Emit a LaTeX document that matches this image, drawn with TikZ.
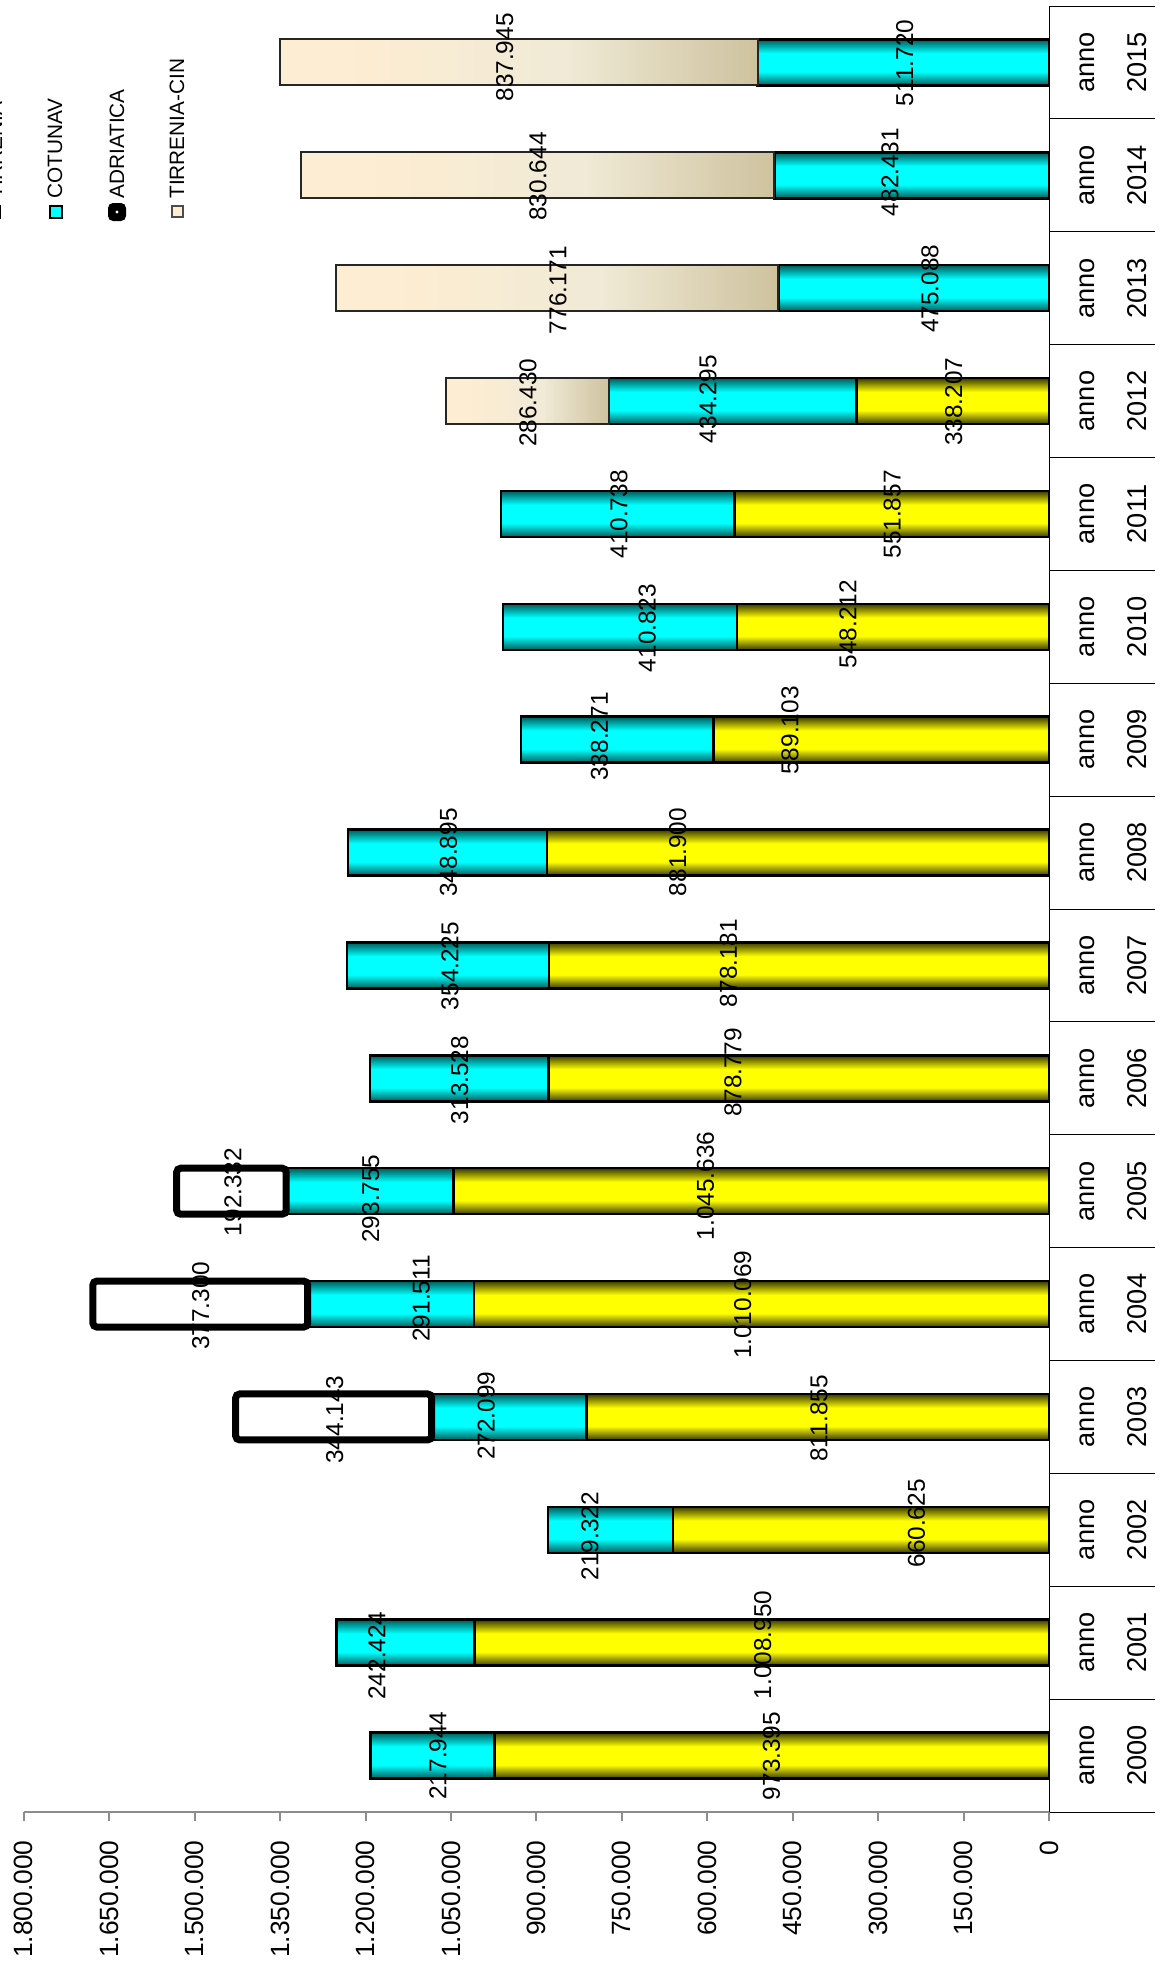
\documentclass[tikz,border=0pt]{standalone}
\usepackage{fontspec}
\setmainfont{Liberation Sans}
\definecolor{ydk}{RGB}{58,58,0}
\definecolor{ybr}{RGB}{255,255,0}
\definecolor{cdk}{RGB}{0,92,92}
\definecolor{cbr}{RGB}{0,255,255}
\definecolor{cinL}{RGB}{253,237,210}
\definecolor{cinM}{RGB}{240,234,214}
\definecolor{cinR}{RGB}{206,194,158}
\definecolor{axgray}{RGB}{140,140,140}
\pgfdeclareverticalshading{yshade}{100bp}{color(0bp)=(ydk); color(25bp)=(ydk); color(40bp)=(ybr); color(60bp)=(ybr); color(75bp)=(ydk); color(100bp)=(ydk)}
\pgfdeclareverticalshading{cshade}{100bp}{color(0bp)=(cdk); color(25bp)=(cdk); color(40bp)=(cbr); color(60bp)=(cbr); color(75bp)=(cdk); color(100bp)=(cdk)}
\pgfdeclarehorizontalshading{cinshade}{100bp}{color(0bp)=(cinL); color(25bp)=(cinL); color(32bp)=(cinL); color(55bp)=(cinM); color(75bp)=(cinR); color(100bp)=(cinR)}
\tikzset{
  tirbar/.style={draw=black, line width=1.25pt, shade, shading=yshade},
  cotbar/.style={draw=black, line width=1.25pt, shade, shading=cshade},
  adrbar/.style={draw=black, line width=3.5pt, fill=white, rounded corners=2pt},
  cinbar/.style={draw=black!85, line width=1pt, shade, shading=cinshade},
  vlab/.style={rotate=90, font=\fontsize{12.2}{14}\selectfont, inner sep=0pt},
  catlab/.style={rotate=90, font=\fontsize{13.6}{16}\selectfont, inner sep=0pt},
  ticklab/.style={rotate=90, anchor=east, font=\fontsize{13.2}{15}\selectfont, inner sep=0pt},
  leglab/.style={rotate=90, anchor=west, font=\fontsize{10.4}{12}\selectfont, inner sep=0pt},
  axisline/.style={draw=black, line width=0.5pt},
  valaxis/.style={draw=axgray, line width=1pt},
}
\begin{document}
\begin{tikzpicture}[x=0.5pt, y=-0.5pt]
\useasboundingbox (0,0) rectangle (1165,1966);
\fill[white] (0,0) rectangle (1165,1966);

% category axis and separators
\coordinate (catTop) at (1049,6);
\coordinate (catBot) at (1049,1812);
\draw[axisline] (catTop) -- (catBot);
\foreach \k in {0,...,16}{
  \pgfmathsetmacro\ys{6+112.875*\k}
  \coordinate (sepL\k) at (1049,\ys);
  \coordinate (sepR\k) at (1155,\ys);
  \draw[axisline] (sepL\k) -- (sepR\k);
}
\foreach \yr in {2000,...,2015}{
  \pgfmathsetmacro\yc{6+112.875*(2015-\yr+0.5)}
  \node[catlab] (anno\yr) at (1087,\yc) {anno};
  \node[catlab] (year\yr) at (1137,\yc) {\yr};
}

% value axis
\coordinate (vaxL) at (24,1812);
\draw[valaxis] (vaxL) -- (catBot);
\foreach \k/\t in {0/0,1/150.000,2/300.000,3/450.000,4/600.000,5/750.000,6/900.000,7/1.050.000,8/1.200.000,9/1.350.000,10/1.500.000,11/1.650.000,12/1.800.000}{
  \pgfmathsetmacro\xt{1049-\k*85.425}
  \coordinate (tk\k) at (\xt,1812);
  \coordinate (tkb\k) at (\xt,1821);
  \draw[valaxis] (tk\k) -- (tkb\k);
  \node[ticklab] (tl\k) at (\xt,1840) {\t};
}

% bars (values in thousands): year / TIRRENIA / COTUNAV / ADRIATICA / TIRRENIA-CIN
\foreach \yr/\a/\b/\c/\d in {
2000/973.395/217.944/0/0,
2001/1008.950/242.424/0/0,
2002/660.625/219.322/0/0,
2003/811.855/272.099/344.143/0,
2004/1010.069/291.511/377.300/0,
2005/1045.636/293.755/192.332/0,
2006/878.779/313.528/0/0,
2007/878.181/354.225/0/0,
2008/881.900/348.895/0/0,
2009/589.103/338.271/0/0,
2010/548.212/410.823/0/0,
2011/551.857/410.738/0/0,
2012/338.207/434.295/0/286.430,
2013/0/475.088/0/776.171,
2014/0/482.431/0/830.644,
2015/0/511.720/0/837.945}{
  \pgfmathsetmacro\yc{6+112.875*(2015-\yr+0.5)}
  \pgfmathsetmacro\ytop{\yc-23}
  \pgfmathsetmacro\ybot{\yc+23}
  \pgfmathsetmacro\xa{1049-\a*0.5695}
  \pgfmathsetmacro\xb{\xa-\b*0.5695}
  \pgfmathsetmacro\xc{\xb-\c*0.5695}
  \pgfmathsetmacro\xd{\xc-\d*0.5695}
  \ifdim\a pt>0pt \path[tirbar] (\xa,\ytop) rectangle (1049,\ybot); \fi
  \ifdim\b pt>0pt \path[cotbar] (\xb,\ytop) rectangle (\xa,\ybot); \fi
  \ifdim\c pt>0pt \path[adrbar] (\xc,\ytop) rectangle (\xb,\ybot); \fi
  \ifdim\d pt>0pt \path[cinbar] (\xd,\ytop) rectangle (\xc,\ybot); \fi
}

% value labels
\foreach \n/\lx/\ly/\t in {
l15n/504.6/57.4/837.945, l15c/904.6/63/511.720,
l14n/538/176.5/830.644, l14c/890/172/482.431,
l13n/558/290/776.171, l13c/930/288.8/475.088,
l12n/528/402.7/286.430, l12c/708/399/434.295, l12t/953.6/401.8/338.207,
l11c/619/514.4/410.738, l11t/892.3/514.4/551.857,
l10c/647.2/628/410.823, l10t/848/624.3/548.212,
l09c/599.5/736.5/338.271, l09t/790/730.5/589.103,
l08c/448.5/852.5/348.895, l08t/677.8/852/881.900,
l07c/450/966/354.225, l07t/728.4/963/878.181,
l06c/459.7/1080/313.528, l06t/733/1072/878.779,
l05a/233/1192/192.332, l05c/370.7/1198.5/293.755, l05t/705.4/1186/1.045.636,
l04a/200.8/1305.6/377.300, l04c/421.2/1298.4/291.511, l04t/742.7/1304.7/1.010.069,
l03a/334.6/1419.5/344.143, l03c/486.1/1415.8/272.099, l03t/819/1418.4/811.855,
l02c/590/1536.3/219.322, l02t/916.4/1523.4/660.625,
l01c/376.8/1655.5/242.424, l01t/762.8/1644.8/1.008.950,
l00c/437.9/1755.5/217.944, l00t/771.4/1756/973.395}{
  \node[vlab] (\n) at (\lx,\ly) {\t};
}

% legend
\path[draw=black, line width=0.8pt, fill=ybr] (-12,206) rectangle (0,218);
\node[leglab] (legT) at (-5,199) {TIRRENIA};
\path[draw=black, line width=0.8pt, fill=cbr] (50,206) rectangle (62,218);
\node[leglab] (legC) at (55,199) {COTUNAV};
\path[fill=black, rounded corners=2.5pt] (108,203) rectangle (126,221);
\fill[white] (117,212) circle (1.6);
\node[leglab] (legA) at (117,199) {ADRIATICA};
\path[draw=black!70, line width=0.6pt, fill=cinL] (172,206) rectangle (183,217);
\node[leglab] (legN) at (177,199) {TIRRENIA-CIN};
\end{tikzpicture}
\end{document}
